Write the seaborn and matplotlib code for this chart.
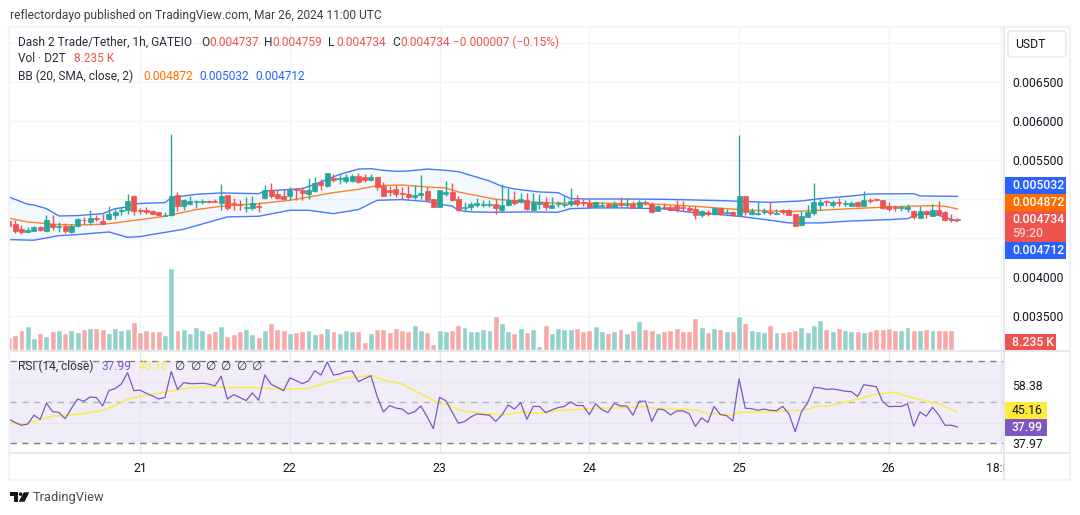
# Dash 2 Trade / Tether 1h chart, TradingView style

import numpy as np
import pandas as pd
import matplotlib
matplotlib.use("Agg")
import matplotlib.pyplot as plt
from matplotlib.patches import Rectangle, FancyBboxPatch, Circle
from matplotlib.transforms import Bbox
import seaborn as sns

# prices below are in millionths of a USDT, one row per hourly bar (Mar 20 03:00 on)
opens = [4713, 4675, 4611, 4576, 4589, 4645, 4589, 4683, 4640, 4649, 4572, 4653, 4734, 4709, 4751, 4713, 4739, 4790, 4841, 4854,
         5033, 4858, 4863, 4845, 4828, 4786, 4790, 5046, 4905, 4931, 4965, 4965, 4973, 4973, 4948, 5046, 4944, 4931, 4888, 4888,
         4914, 5008, 5110, 5067, 5033, 5042, 5127, 5110, 5059, 5097, 5217, 5161, 5268, 5255, 5225, 5230, 5294,
         5277, 5243, 5277, 5166, 5110, 5132, 5072, 5059, 5021, 5046, 5098, 4995, 4897, 5059, 5085, 4995, 4880, 4893, 4918, 4927,
         4918, 4931, 4854, 4918, 4987, 4957, 4982, 4854, 4931, 4957, 4880, 4940, 4918, 4940, 4982, 4957, 4944, 4893, 4914, 4935,
         4893, 4940, 4923, 4931, 4880, 4957, 4931, 4846, 4893, 4893, 4905, 4893, 4880, 4867, 4794, 4829, 4803, 4880,
         4820, 4833, 4790, 5034, 4803, 4807, 4833, 4833, 4812, 4863, 4854, 4803, 4662, 4765, 4816, 4918, 4970, 4918, 4957, 4940,
         4905, 4957, 4905, 4982, 4995, 4982, 4905, 4893, 4880, 4876, 4841, 4752, 4841, 4786, 4854, 4829, 4739, 4737]
highs = [4726, 4726, 4662, 4640, 4650, 4653, 4790, 4790, 4704, 4692, 4675, 4760, 4769, 4863, 4790, 4803, 4909, 4875, 4897, 5059,
         5046, 4888, 4897, 4854, 4832, 4832, 5836, 5084, 5003, 5042, 4991, 4995, 4982, 4995, 5187, 5050, 5016, 4982, 5025, 5033,
         4961, 5174, 5200, 5110, 5127, 5153, 5144, 5153, 5272, 5281, 5251, 5330, 5324, 5324, 5324, 5324, 5332,
         5324, 5315, 5280, 5217, 5162, 5174, 5153, 5166, 5174, 5303, 5153, 4997, 5119, 5226, 5204, 5034, 4957, 4957, 5008, 4991,
         4982, 4995, 5187, 5145, 5098, 5072, 5072, 5072, 5059, 5021, 5021, 4974, 5042, 5136, 5046, 4995, 4995, 4959, 4957, 4948,
         4970, 5021, 5008, 4970, 4982, 4982, 4957, 4918, 4944, 4918, 4982, 4970, 4905, 4905, 4854, 4854, 4893, 4893,
         4867, 4841, 5815, 5042, 4888, 4974, 4884, 4961, 4867, 4871, 4871, 4812, 4841, 4918, 5200, 5004, 4991, 4982, 5008, 4982,
         4974, 4974, 5098, 5012, 5008, 4991, 4957, 4918, 4918, 4931, 4854, 4905, 4854, 4931, 4970, 4841, 4803, 4759]
lows = [4640, 4564, 4546, 4576, 4587, 4594, 4576, 4598, 4576, 4568, 4564, 4640, 4675, 4666, 4717, 4675, 4726, 4747, 4790, 4811,
        4790, 4811, 4803, 4803, 4786, 4781, 4786, 4845, 4854, 4918, 4888, 4939, 4948, 4956, 4863, 4863, 4863, 4854, 4832, 4854,
        4832, 4995, 5016, 4995, 4982, 4982, 4982, 4991, 4995, 5089, 5110, 5153, 5217, 5195, 5204, 5217, 5204,
        5217, 5230, 5110, 5035, 5038, 5025, 4995, 4995, 4995, 4995, 4980, 4895, 4895, 5038, 4974, 4841, 4833, 4854, 4893, 4893,
        4893, 4803, 4833, 4905, 4918, 4944, 4854, 4852, 4867, 4854, 4878, 4893, 4893, 4905, 4905, 4905, 4891, 4891, 4893, 4891,
        4891, 4893, 4893, 4878, 4878, 4918, 4816, 4844, 4867, 4852, 4829, 4841, 4833, 4739, 4769, 4786, 4790, 4794,
        4803, 4786, 4788, 4790, 4790, 4790, 4803, 4790, 4803, 4803, 4788, 4647, 4649, 4763, 4790, 4854, 4905, 4897, 4905, 4905,
        4903, 4903, 4903, 4948, 4970, 4871, 4846, 4846, 4846, 4837, 4747, 4750, 4760, 4777, 4777, 4718, 4705, 4734]
closes = [4649, 4585, 4576, 4598, 4645, 4598, 4726, 4636, 4649, 4585, 4653, 4739, 4726, 4751, 4739, 4675, 4807, 4828, 4863, 4969,
          4845, 4845, 4832, 4807, 4790, 4798, 5033, 4905, 4982, 4969, 4973, 4973, 4961, 4965, 5033, 4880, 4931, 4922, 4897, 4944,
          4897, 5110, 5033, 5016, 4995, 5119, 5114, 5076, 5110, 5200, 5178, 5328, 5238, 5268, 5277, 5294, 5217,
          5239, 5277, 5153, 5038, 5085, 5059, 5063, 5021, 5046, 5072, 4982, 4897, 5110, 5085, 4982, 4863, 4893, 4931, 4944, 4940,
          4931, 4880, 4918, 4982, 4944, 4995, 4867, 4957, 4957, 4893, 4918, 4948, 4940, 4970, 4935, 4944, 4893, 4957, 4923, 4893,
          4940, 4923, 4931, 4880, 4957, 4944, 4833, 4905, 4880, 4854, 4867, 4880, 4854, 4790, 4841, 4803, 4880, 4812,
          4833, 4794, 5034, 4833, 4841, 4820, 4846, 4820, 4824, 4833, 4790, 4649, 4777, 4833, 4957, 4957, 4957, 4957, 4948, 4952,
          4944, 4905, 4982, 4970, 4982, 4888, 4867, 4880, 4893, 4893, 4765, 4841, 4803, 4854, 4803, 4726, 4734, 4734]

# volume in thousands of D2T
volume_k = [110, 124, 165, 198, 99, 140, 115, 156, 165, 140, 165, 148, 173, 181, 181, 173, 140, 181, 165, 173,
            231, 148, 165, 156, 156, 124, 675, 165, 173, 140, 189, 165, 140, 156, 198, 115, 132, 156, 173, 132,
            107, 165, 222, 173, 165, 140, 148, 156, 165, 132, 140, 181, 156, 140, 165, 156, 156,
            66, 140, 173, 173, 148, 181, 165, 156, 206, 165, 148, 49, 165, 156, 165, 206, 189, 156, 156, 173,
            165, 280, 222, 156, 140, 181, 148, 173, 33, 206, 140, 181, 173, 173, 181, 156, 165, 198, 156, 140,
            156, 173, 140, 165, 239, 173, 165, 140, 156, 165, 181, 156, 156, 264, 189, 148, 181, 173,
            156, 156, 280, 222, 165, 156, 148, 206, 148, 148, 156, 165, 189, 148, 206, 247, 173, 156, 181, 165,
            156, 156, 148, 156, 173, 173, 181, 165, 165, 189, 165, 165, 173, 165, 165, 165, 165, 8.235]

# Bollinger band readings, bar number then value
bb_upper_idx = [0, 3, 4, 6, 8, 11, 15, 17, 19, 20, 25, 26, 30, 34, 40, 41, 47, 49, 53, 56, 58, 60, 62, 64, 67, 70, 72, 74, 77, 79,
                81, 85, 88, 90, 93, 98, 105, 114, 122, 127, 130, 135, 138, 145, 146, 152]
bb_upper = [5025, 4931, 4922, 4875, 4781, 4786, 4811, 4875, 4897, 4939, 4952, 5016, 5059, 5076, 5067, 5102, 5132, 5187, 5315, 5383,
            5388, 5366, 5354, 5358, 5383, 5366, 5349, 5302, 5230, 5161, 5127, 5089, 5080, 5003, 4999, 4999, 4995, 4978, 4956, 4974,
            5003, 5038, 5063, 5067, 5038, 5032]
bb_mid_idx = [0, 3, 6, 8, 11, 15, 17, 25, 30, 34, 40, 45, 52, 56, 59, 63, 67, 70, 72, 78, 83, 87, 93, 99, 104, 110, 114, 119, 125,
              130, 135, 141, 148, 150, 152]
bb_mid = [4751, 4705, 4683, 4670, 4666, 4675, 4692, 4777, 4863, 4905, 4939, 4982, 5080, 5123, 5170, 5178, 5153, 5140, 5089, 4995,
          4965, 4948, 4948, 4939, 4931, 4905, 4880, 4854, 4837, 4854, 4875, 4897, 4914, 4905, 4872]
bb_lower_idx = [0, 4, 8, 11, 16, 19, 21, 28, 35, 40, 45, 48, 52, 56, 59, 63, 67, 70, 71, 72, 74, 78, 83, 88, 90, 94, 99, 105, 110,
                114, 117, 122, 125, 130, 135, 141, 144, 146, 149, 152]
bb_lower = [4478, 4470, 4529, 4542, 4576, 4508, 4517, 4611, 4769, 4777, 4854, 4854, 4811, 4863, 4982, 4991, 4965, 4918, 4909, 4854,
            4833, 4828, 4833, 4828, 4875, 4884, 4884, 4871, 4820, 4798, 4777, 4726, 4692, 4692, 4717, 4734, 4747, 4811, 4790, 4712]

rsi = [41.9, 40.1, 38.8, 39.4, 43.7, 41.7, 49.5, 45.4, 45.1, 42.0, 47.1, 51.6, 50.5, 52.6, 52.3, 48.2, 55.7, 56.7, 58.9, 64.5,
       55.7, 55.9, 54.4, 53.1, 51.6, 52.4, 65.0, 56.3, 59.6, 59.1, 59.1, 59.3, 58.9, 58.0, 62.7, 51.6, 53.7, 52.4, 50.8, 54.6,
       51.0, 63.3, 58.8, 57.3, 55.7, 61.9, 60.6, 59.1, 60.4, 65.4, 63.3, 69.7, 63.3, 63.8, 65.0, 65.3, 60.1,
       61.5, 63.0, 52.8, 45.3, 48.4, 47.2, 46.7, 44.3, 45.4, 48.2, 43.0, 37.2, 52.4, 50.8, 45.4, 39.8, 40.6, 42.8, 44.3, 44.0,
       43.7, 40.7, 43.8, 48.7, 46.7, 49.8, 41.7, 48.0, 48.0, 45.0, 46.3, 47.4, 48.0, 50.2, 48.4, 48.4, 44.0, 49.3, 46.4, 45.0,
       49.5, 48.2, 48.2, 43.7, 50.5, 50.5, 40.7, 46.7, 46.3, 43.8, 45.8, 45.8, 44.5, 38.3, 42.4, 40.2, 48.0, 44.0,
       43.5, 40.9, 61.4, 47.1, 46.9, 46.1, 46.7, 46.1, 45.9, 48.0, 44.3, 35.7, 45.4, 49.8, 57.3, 57.0, 56.3, 56.5, 56.0, 55.4,
       55.2, 52.8, 58.6, 58.1, 57.6, 50.3, 47.9, 48.0, 48.0, 49.3, 38.3, 45.3, 43.2, 47.6, 43.8, 38.8, 38.8, 37.99]
rsi_ma_idx = [0, 2, 5, 7, 9, 12, 15, 17, 19, 21, 24, 26, 29, 33, 35, 39, 41, 45, 48, 51, 54, 56, 58, 60, 63, 66, 69, 70, 72, 73, 75,
              78, 80, 82, 85, 88, 94, 99, 102, 103, 107, 110, 112, 114, 116, 117, 123, 125, 127, 130, 131, 135, 139, 142, 143,
              146, 149, 152]
rsi_ma = [40.4, 39.3, 41.4, 43.3, 43.5, 44.5, 46.1, 48.4, 51.5, 52.8, 54.4, 55.5, 57.2, 57.5, 57.2, 57.2, 56.7, 56.5, 56.7, 59.6,
          62.0, 62.2, 63.2, 60.9, 58.9, 54.1, 49.5, 49.0, 46.6, 45.6, 45.0, 44.1, 44.1, 45.3, 44.5, 45.9, 47.1, 47.4, 47.9, 47.2,
          46.6, 46.3, 44.6, 44.3, 43.7, 45.1, 45.4, 46.1, 45.9, 48.4, 48.0, 50.8, 53.9, 55.0, 53.7, 51.3, 49.3, 45.16]

day_ticks = [21, 45, 69, 93, 117, 141, 159]
day_labels = ["21", "22", "23", "24", "25", "26", "18:00"]
price_ticks = [0.0035, 0.0040, 0.0045, 0.0050, 0.0055, 0.0060, 0.0065, 0.0070]
price_labels = ["0.003500", "0.004000", "", "", "0.005500", "0.006000", "0.006500", ""]

UP = "#26a69a"
DOWN = "#ef5350"
BLUE = "#2962ff"
ORANGE = "#ff6d00"
PURPLE = "#7e57c2"
YELLOW = "#ffeb3b"
GRID = "#f0f3fa"
EDGE = "#e0e3eb"
INK = "#131722"
W, H = 1080, 515

sns.set_theme(style="white")
plt.rcParams["font.family"] = ["Roboto", "DejaVu Sans"]

df = pd.DataFrame({"open": opens, "high": highs, "low": lows, "close": closes, "volume": volume_k})
df[["open", "high", "low", "close"]] *= 1e-6
df["bar"] = np.arange(len(df))
df["dir"] = np.where(df["close"] >= df["open"], "up", "down")
colors = df["dir"].map({"up": UP, "down": DOWN})


def pane(x0, y0, x1, y1, **kw):
    # axes from pixel corners, y counted from the top
    return fig.add_axes([x0 / W, 1 - y1 / H, (x1 - x0) / W, (y1 - y0) / H], **kw)


fig = plt.figure(figsize=(W / 100, H / 100), dpi=100, facecolor="white")
xlim = (0.16, 159.46)

# price pane
ax = pane(10, 28, 1004, 350)
ax.set_facecolor("white")
for spine in ax.spines.values():
    spine.set_visible(False)

band_x = np.r_[bb_upper_idx, bb_lower_idx[::-1]]
band_y = np.r_[bb_upper, bb_lower[::-1]] * 1e-6
ax.fill(band_x, band_y, color="#2196f3", alpha=0.05, lw=0, zorder=1)
sns.lineplot(x=bb_upper_idx, y=np.array(bb_upper) * 1e-6, color=BLUE, lw=1, alpha=0.85, ax=ax, zorder=2)
sns.lineplot(x=bb_lower_idx, y=np.array(bb_lower) * 1e-6, color=BLUE, lw=1, alpha=0.85, ax=ax, zorder=2)
sns.lineplot(x=bb_mid_idx, y=np.array(bb_mid) * 1e-6, color=ORANGE, lw=1, alpha=0.85, ax=ax, zorder=2)

ax.vlines(df["bar"], df["low"], df["high"], colors=colors, lw=1, zorder=3)
ax.bar(df["bar"], (df["close"] - df["open"]).abs(), bottom=df[["open", "close"]].min(axis=1), width=0.8,
       color=colors, edgecolor=colors, lw=0.5, zorder=4)

ax.set_xlim(*xlim)
ax.set_ylim(0.0030628, 0.0071910)
ax.set_xticks(day_ticks)
ax.set_xticklabels([])
ax.set_yticks(price_ticks)
ax.set_yticklabels(price_labels, fontsize=8.8, color=INK)
ax.yaxis.tick_right()
ax.tick_params(length=0, pad=5.8)
ax.tick_params(axis="x", labelbottom=False)
ax.grid(True, color=GRID, lw=1)
ax.set_axisbelow(True)
ax.set_xlabel("")
ax.set_ylabel("")

# volume overlay in the same pane
vol_ax = pane(10, 28, 1004, 350, frameon=False, zorder=1.5)
sns.barplot(data=df, x="bar", y="volume", hue="dir", palette={"up": "#92d2cc", "down": "#f7a9a7"}, dodge=False,
            native_scale=True, width=0.95, legend=False, ax=vol_ax, errorbar=None, saturation=1)
vol_ax.set_xlim(*xlim)
vol_ax.set_ylim(0, 2652)
vol_ax.axis("off")

# RSI pane
rsi_ax = pane(10, 351, 1004, 452)
for spine in rsi_ax.spines.values():
    spine.set_visible(False)
rsi_ax.axhspan(30, 70, color=PURPLE, alpha=0.11, lw=0, zorder=0)
rsi_ax.axhline(70, color="#787b86", lw=1, dashes=(4.5, 4), zorder=1)
rsi_ax.axhline(30, color="#787b86", lw=1, dashes=(4.5, 4), zorder=1)
rsi_ax.axhline(50, color="#b5b6bd", lw=1, dashes=(4.5, 4), zorder=1)
sns.lineplot(x=rsi_ma_idx, y=rsi_ma, color=YELLOW, lw=1, ax=rsi_ax, zorder=3)
sns.lineplot(x=df["bar"], y=rsi, color=PURPLE, lw=0.9, ax=rsi_ax, zorder=4)
rsi_ax.set_xlim(*xlim)
rsi_ax.set_ylim(25.76, 75.02)
rsi_ax.set_yticks([40, 60])
rsi_ax.set_yticklabels([])
rsi_ax.set_xticks(day_ticks)
rsi_ax.set_xticklabels(day_labels, fontsize=8.8, color=INK)
rsi_ax.tick_params(length=0, pad=7)
rsi_ax.grid(True, color="#e6e6f0", lw=1)
rsi_ax.set_axisbelow(True)
rsi_ax.set_xlabel("")
rsi_ax.set_ylabel("")
for lab in rsi_ax.get_xticklabels():
    lab.set_clip_box(Bbox([[0, 0], [1004, H]]))
    lab.set_clip_on(True)

# frame, price labels and header, drawn on a pixel sized overlay
top = fig.add_axes([0, 0, 1, 1], zorder=10)
top.set_xlim(0, W)
top.set_ylim(H, 0)
top.axis("off")


def box(x0, y0, x1, y1, color):
    top.add_patch(Rectangle((x0, y0), x1 - x0, y1 - y0, facecolor=color, edgecolor="none"))


def label(x, y, text, color=INK, size=8.8, ha="left", **kw):
    top.text(x, y, text, color=color, fontsize=size, ha=ha, va="center", **kw)


top.add_patch(Rectangle((9, 27), 1061, 453, facecolor="none", edgecolor=GRID, lw=1.6))
top.plot([10, 1069], [350.7, 350.7], color=EDGE, lw=1.1)
top.plot([10, 1069], [452.7, 452.7], color=EDGE, lw=1.1)
top.plot([1004.3, 1004.3], [28, 479], color=EDGE, lw=1.1)

top.add_patch(FancyBboxPatch((1010, 33), 54, 22, boxstyle="round,pad=2,rounding_size=4", facecolor="white",
                             edgecolor=EDGE, lw=0.9))
label(1030.5, 44, "USDT", ha="center")

box(1005, 177, 1066, 194, BLUE)
label(1012, 185.7, "0.005032", "white", weight="medium")
box(1005, 194, 1066, 211, ORANGE)
label(1012, 202.5, "0.004872", "white", weight="medium")
box(1005, 211, 1066, 241.7, DOWN)
label(1012, 219.5, "0.004734", "white", weight="medium")
label(1012, 233.7, "59:20", "#fbcfce", weight="medium")
box(1005, 241.7, 1066, 259, BLUE)
label(1012, 250.3, "0.004712", "white", weight="medium")
box(1005, 334, 1056, 349.5, DOWN)
label(1012, 342, "8.235 K", "white", weight="medium")

box(1005, 378, 1046, 392, "white")
label(1012, 386, "58.38")
box(1005, 402.3, 1046.7, 419, YELLOW)
label(1012, 410.7, "45.16")
box(1005, 419, 1046.7, 435.7, PURPLE)
label(1012, 427.3, "37.99", "white", weight="medium")
label(1012, 444.3, "37.97")

# publish line and legends
LEGEND = 8.6
label(10, 15, "reflectordayo published on TradingView.com, Mar 26, 2024 11:00 UTC", "#3c4043", size=8.65)
label(18, 42, "Dash 2 Trade/Tether, 1h, GATEIO", "#2a2e39", size=LEGEND)
for x, name, val in [(201, "O", "0.004737"), (264, "H", "0.004759"), (328, "L", "0.004734"), (392, "C", "0.004734")]:
    label(x, 42, name, "#2a2e39", size=LEGEND)
    label(x + 8, 42, val, DOWN, size=LEGEND)
label(453, 42, "\u22120.000007 (\u22120.15%)", DOWN, size=LEGEND)
label(18, 59, "Vol \u00b7 D2T", "#2a2e39", size=LEGEND)
label(74, 59, "8.235 K", DOWN, size=LEGEND)
label(18, 76, "BB (20, SMA, close, 2)", "#2a2e39", size=LEGEND)
label(143, 76, "0.004872", ORANGE, size=LEGEND)
label(199, 76, "0.005032", BLUE, size=LEGEND)
label(255, 76, "0.004712", BLUE, size=LEGEND)
label(18, 366, "RSI (14, close)", "#2a2e39", size=LEGEND)
label(102, 366, "37.99", PURPLE, size=LEGEND)
label(139, 366, "45.16", YELLOW, size=LEGEND)
for x in [179, 195, 210, 225, 241, 256]:
    label(x, 366, "\u2205", "#2a2e39", size=LEGEND, ha="center")

# TradingView mark
top.fill([10, 17.5, 17.5, 13.8, 13.8, 10], [492.3, 492.3, 501.7, 501.7, 496, 496], color="#131722", lw=0)
top.add_patch(Circle((20.6, 494.1), 1.8, color="#131722", lw=0))
top.fill([23.8, 29.3, 24.6, 18.6], [492.3, 492.3, 501.7, 501.7], color="#131722", lw=0)
label(33, 497, "TradingView", "#4a4a4a", size=9.3)

fig.savefig("out.png", dpi=100)
